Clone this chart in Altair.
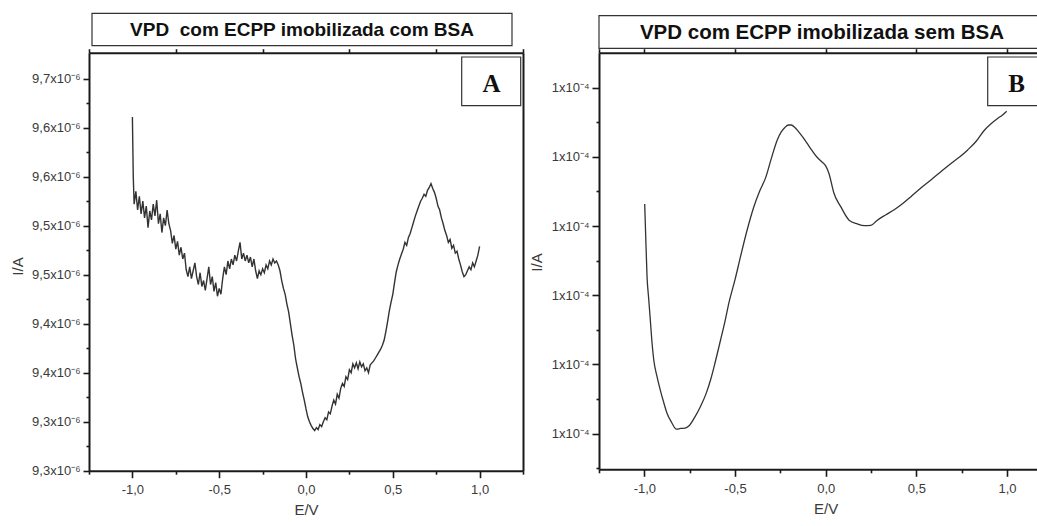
import altair as alt
import pandas as pd

W, H = 1037, 520

# ---------------- Panel A: VPD com ECPP imobilizada com BSA ----------------
E_A = [-1.0, -0.995] + [round(-0.99 + 0.01 * i, 2) for i in range(200)]
I_A = [9.661, 9.600,
       9.572, 9.585, 9.566, 9.580, 9.562, 9.575, 9.558, 9.570, 9.548, 9.565,
       9.556, 9.572, 9.560, 9.576, 9.552, 9.562, 9.543, 9.558, 9.550, 9.566,
       9.552, 9.545, 9.532, 9.540, 9.526, 9.534, 9.520, 9.528, 9.516, 9.522,
       9.505, 9.498, 9.508, 9.496, 9.504, 9.512, 9.498, 9.490, 9.502, 9.488,
       9.494, 9.484, 9.496, 9.508, 9.490, 9.498, 9.483, 9.492, 9.478, 9.486,
       9.480, 9.496, 9.508, 9.500, 9.514, 9.506, 9.516, 9.510, 9.520, 9.514,
       9.524, 9.533, 9.516, 9.522, 9.514, 9.520, 9.512, 9.518, 9.508, 9.516,
       9.504, 9.496, 9.504, 9.500, 9.506, 9.502, 9.510, 9.506, 9.514, 9.510,
       9.516, 9.512, 9.514, 9.510, 9.504, 9.494, 9.486, 9.480, 9.470, 9.462,
       9.450, 9.438, 9.428, 9.414, 9.405, 9.396, 9.389, 9.380, 9.372, 9.363,
       9.355, 9.350, 9.346, 9.343, 9.341, 9.344, 9.342, 9.347, 9.345, 9.350,
       9.354, 9.352, 9.360, 9.358, 9.366, 9.372, 9.368, 9.378, 9.374, 9.384,
       9.389, 9.386, 9.396, 9.393, 9.403, 9.400, 9.409, 9.405, 9.410, 9.404,
       9.411, 9.406, 9.409, 9.402, 9.405, 9.400, 9.408, 9.410, 9.412, 9.415,
       9.418, 9.421, 9.424, 9.428, 9.433, 9.442, 9.452, 9.463, 9.472, 9.480,
       9.492, 9.503, 9.510, 9.516, 9.521, 9.526, 9.533, 9.530, 9.538, 9.542,
       9.548, 9.554, 9.560, 9.565, 9.570, 9.575, 9.578, 9.582, 9.580, 9.586,
       9.589, 9.593, 9.588, 9.584, 9.578, 9.570, 9.566, 9.558, 9.552, 9.545,
       9.540, 9.533, 9.536, 9.527, 9.530, 9.522, 9.524, 9.516, 9.510, 9.503,
       9.498, 9.500, 9.504, 9.508, 9.505, 9.512, 9.508, 9.514, 9.520, 9.529]

# ---------------- Panel B: VPD com ECPP imobilizada sem BSA ----------------
E_B = [-0.998, -0.993, -0.985, -0.976, -0.967, -0.958, -0.948, -0.930, -0.912, -0.893,
       -0.875, -0.850, -0.823, -0.800, -0.775, -0.755, -0.725, -0.691, -0.660, -0.635,
       -0.610, -0.580, -0.555, -0.534, -0.500, -0.470, -0.435, -0.396, -0.365, -0.331,
       -0.300, -0.267, -0.245, -0.225, -0.205, -0.190, -0.170, -0.150, -0.125, -0.101,
       -0.075, -0.046, -0.020, 0.000, 0.018, 0.046, 0.083, 0.129, 0.175, 0.212,
       0.249, 0.285, 0.330, 0.378, 0.425, 0.470, 0.525, 0.580, 0.635, 0.691,
       0.740, 0.783, 0.830, 0.875, 0.910, 0.948, 0.975, 0.998]
I_B = [1.0664, 1.0580, 1.0453, 1.0390, 1.0328, 1.0265, 1.0213, 1.0165, 1.0126, 1.0090,
       1.0059, 1.0033, 1.0013, 1.0015, 1.0016, 1.0022, 1.0045, 1.0078, 1.0115, 1.0155,
       1.0205, 1.0270, 1.0325, 1.0377, 1.0445, 1.0511, 1.0585, 1.0656, 1.0700, 1.0740,
       1.0795, 1.0849, 1.0872, 1.0885, 1.0892, 1.0892, 1.0885, 1.0873, 1.0856, 1.0838,
       1.0818, 1.0798, 1.0785, 1.0774, 1.0752, 1.0694, 1.0656, 1.0617, 1.0606, 1.0601,
       1.0602, 1.0617, 1.0632, 1.0647, 1.0665, 1.0685, 1.0710, 1.0733, 1.0757, 1.0781,
       1.0800, 1.0820, 1.0845, 1.0877, 1.0895, 1.0911, 1.0921, 1.0932]

# ---------------- Ticks and labels ----------------
X_TICKS = [-1.0, -0.5, 0.0, 0.5, 1.0]
X_LABELS = ["-1,0", "-0,5", "0,0", "0,5", "1,0"]
X_MINOR = [-1.25, -0.75, -0.25, 0.25, 0.75, 1.25]
XA_TOP = [-1.25, -0.75, -0.25, 0.25, 0.75, 1.25]
XB_TOP = [-1.25, -1.0, -0.5, 0.0, 0.5, 1.0]

YA_TICKS = [9.30, 9.35, 9.40, 9.45, 9.50, 9.55, 9.60, 9.65, 9.70]
YA_LABELS = ["9,3x10⁻⁶", "9,3x10⁻⁶", "9,4x10⁻⁶", "9,4x10⁻⁶", "9,5x10⁻⁶",
             "9,5x10⁻⁶", "9,6x10⁻⁶", "9,6x10⁻⁶", "9,7x10⁻⁶"]
YA_MINOR = [9.325, 9.375, 9.425, 9.475, 9.525, 9.575, 9.625, 9.675]

YB_TICKS = [1.00, 1.02, 1.04, 1.06, 1.08, 1.10]
YB_LABELS = ["1x10⁻⁴"] * 6
YB_MINOR = [0.99, 1.01, 1.03, 1.05, 1.07, 1.09]

TITLE_A = "VPD\u00a0 com ECPP imobilizada com BSA"
TITLE_B = "VPD com ECPP imobilizada sem BSA"


def label_expr(vals, labels):
    expr = "'" + labels[-1] + "'"
    for v, l in reversed(list(zip(vals[:-1], labels[:-1]))):
        expr = f"abs(datum.value - ({v})) < 1e-6 ? '{l}' : ({expr})"
    return expr


dfA = pd.DataFrame({"E": E_A, "I": I_A})
dfB = pd.DataFrame({"E": E_B, "I": I_B})

# pixel geometry of the two panels
A_LEFT, A_RIGHT, A_TOP, A_BOTTOM = 89, 523, 52.7, 470.7
B_LEFT, B_TOP, B_BOTTOM = 599, 52.7, 469.3
B_PX_PER_V = 181.35

xA = alt.Scale(domain=[-1.25, 1.25], range=[A_LEFT, A_RIGHT], nice=False, zero=False)
yA = alt.Scale(domain=[9.30, 9.7265], range=[A_BOTTOM, A_TOP], nice=False, zero=False)
xB = alt.Scale(domain=[-1.25, 1.25], range=[B_LEFT, B_LEFT + 2.5 * B_PX_PER_V], nice=False, zero=False)
yB = alt.Scale(domain=[0.9897, 1.1101], range=[B_BOTTOM, B_TOP], nice=False, zero=False)

LINE_COLOR = "#333333"

# ---- Panel A layers
lineA = alt.Chart(dfA).mark_line(color=LINE_COLOR, strokeWidth=1.4).encode(
    x=alt.X("E:Q", scale=xA, axis=alt.Axis(
        orient="bottom", offset=A_BOTTOM - H, values=X_TICKS,
        labelExpr=label_expr(X_TICKS, X_LABELS), tickSize=7, labelPadding=6,
        title="E/V", titlePadding=6)),
    y=alt.Y("I:Q", scale=yA, axis=alt.Axis(
        orient="left", offset=-A_LEFT, values=YA_TICKS,
        labelExpr=label_expr(YA_TICKS, YA_LABELS), tickSize=6, labelPadding=3,
        title="I/A", titleX=-64, titleY=266)),
)
minorA = alt.Chart(dfA).mark_line(opacity=0).encode(
    x=alt.X("E:Q", scale=xA, axis=alt.Axis(
        orient="bottom", offset=A_BOTTOM - H, values=X_MINOR, labels=False,
        tickSize=3.5, domain=False, title=None)),
    y=alt.Y("I:Q", scale=yA, axis=alt.Axis(
        orient="left", offset=-A_LEFT, values=YA_MINOR, labels=False,
        tickSize=3, domain=False, title=None)),
)
frameA = alt.Chart(dfA).mark_line(opacity=0).encode(
    x=alt.X("E:Q", scale=xA, axis=alt.Axis(
        orient="top", offset=-A_TOP, values=XA_TOP, labels=False,
        tickSize=4, title=None)),
    y=alt.Y("I:Q", scale=yA, axis=alt.Axis(
        orient="right", offset=A_RIGHT - W, ticks=False, labels=False, title=None)),
)

# ---- Panel B layers
lineB = alt.Chart(dfB).mark_line(color=LINE_COLOR, strokeWidth=1.3, interpolate="monotone").encode(
    x=alt.X("E:Q", scale=xB, axis=alt.Axis(
        orient="bottom", offset=B_BOTTOM - H, values=X_TICKS,
        labelExpr=label_expr(X_TICKS, X_LABELS), tickSize=7, labelPadding=6,
        title="E/V", titlePadding=6)),
    y=alt.Y("I:Q", scale=yB, axis=alt.Axis(
        orient="left", offset=-B_LEFT, values=YB_TICKS,
        labelExpr=label_expr(YB_TICKS, YB_LABELS), tickSize=7, labelPadding=3,
        title="I/A", titleX=-55, titleY=262)),
)
minorB = alt.Chart(dfB).mark_line(opacity=0).encode(
    x=alt.X("E:Q", scale=xB, axis=alt.Axis(
        orient="bottom", offset=B_BOTTOM - H, values=X_MINOR, labels=False,
        tickSize=3.5, domain=False, title=None)),
    y=alt.Y("I:Q", scale=yB, axis=alt.Axis(
        orient="left", offset=-B_LEFT, values=YB_MINOR, labels=False,
        tickSize=3, domain=False, title=None)),
)
frameB = alt.Chart(dfB).mark_line(opacity=0).encode(
    x=alt.X("E:Q", scale=xB, axis=alt.Axis(
        orient="top", offset=-B_TOP, values=XB_TOP, labels=False,
        tickSize=4, title=None)),
    y=alt.Y("I:Q", scale=yB, axis=None),
)

# ---- title boxes and panel letters
box_style = dict(fill="white", stroke="#333333", strokeWidth=1.2)

titleA_box = alt.Chart(pd.DataFrame({"t": [TITLE_A]})).mark_rect(**box_style).encode(
    x=alt.value(92), x2=alt.value(512), y=alt.value(13.3), y2=alt.value(45.7))
titleA_txt = alt.Chart(pd.DataFrame({"t": [TITLE_A]})).mark_text(
    font="Liberation Sans", fontWeight="bold", fontSize=19, color="#111111",
    baseline="middle", align="center").encode(
    x=alt.value(302), y=alt.value(30), text="t:N")

titleB_box = alt.Chart(pd.DataFrame({"t": [TITLE_B]})).mark_rect(**box_style).encode(
    x=alt.value(599), x2=alt.value(1045), y=alt.value(15.7), y2=alt.value(48.3))
titleB_txt = alt.Chart(pd.DataFrame({"t": [TITLE_B]})).mark_text(
    font="Liberation Sans", fontWeight="bold", fontSize=20.5, color="#111111",
    baseline="middle", align="center").encode(
    x=alt.value(822), y=alt.value(33), text="t:N")

boxA = alt.Chart(pd.DataFrame({"t": ["A"]})).mark_rect(**box_style).encode(
    x=alt.value(461.7), x2=alt.value(520.7), y=alt.value(57), y2=alt.value(105.7))
letterA = alt.Chart(pd.DataFrame({"t": ["A"]})).mark_text(
    font="Liberation Serif", fontWeight="bold", fontSize=25, color="#111111",
    baseline="middle", align="center").encode(
    x=alt.value(491.5), y=alt.value(84), text="t:N")

boxB = alt.Chart(pd.DataFrame({"t": ["B"]})).mark_rect(**box_style).encode(
    x=alt.value(987.7), x2=alt.value(1045), y=alt.value(57), y2=alt.value(105.7))
letterB = alt.Chart(pd.DataFrame({"t": ["B"]})).mark_text(
    font="Liberation Serif", fontWeight="bold", fontSize=25, color="#111111",
    baseline="middle", align="center").encode(
    x=alt.value(1016.5), y=alt.value(84), text="t:N")

chart = alt.layer(
    lineA, minorA, frameA, lineB, minorB, frameB,
    titleA_box, titleA_txt, titleB_box, titleB_txt, boxA, letterA, boxB, letterB,
).resolve_scale(
    x="independent", y="independent"
).resolve_axis(
    x="independent", y="independent"
).properties(
    width=W, height=H,
    autosize=alt.AutoSizeParams(type="none"),
    padding=0,
    background="white",
).configure_view(
    strokeWidth=0
).configure_axis(
    grid=False,
    domainColor="#1a1a1a", domainWidth=2,
    tickColor="#1a1a1a", tickWidth=1.6,
    labelColor="#3a3a3a", labelFont="Liberation Sans", labelFontSize=13,
    titleColor="#3a3a3a", titleFont="Liberation Sans", titleFontSize=15,
    titleFontWeight="normal",
)

chart.save("out.html", embed_options={"renderer": "svg", "actions": False})
